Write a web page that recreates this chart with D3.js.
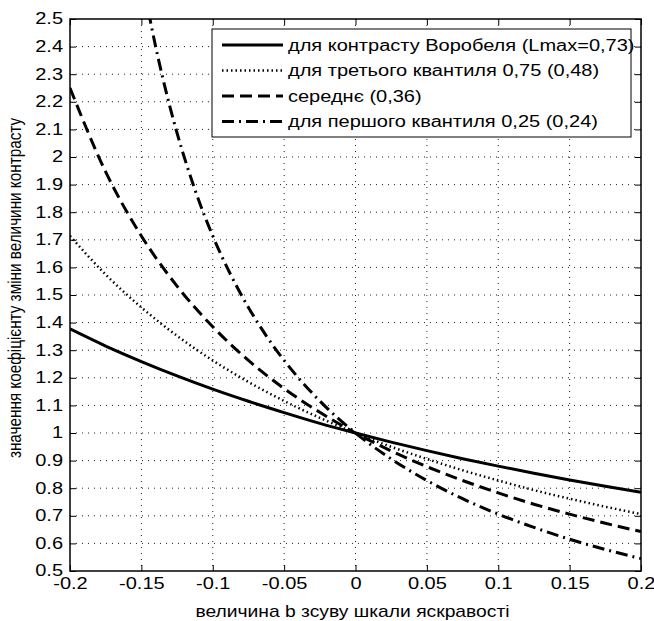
<!DOCTYPE html>
<html>
<head>
<meta charset="utf-8">
<script src="https://cdn.jsdelivr.net/npm/d3@7"></script>
<style>
  body { margin: 0; background: #fff; }
  text { font-family: "Liberation Sans", Arial, sans-serif; fill: #000; }
</style>
</head>
<body>
<div id="wrapper"></div>
<script>
// shift values b and contrast change coefficient
const bShift = [-0.2, -0.175, -0.15, -0.125, -0.1, -0.075, -0.05, -0.025, 0,
  0.025, 0.05, 0.075, 0.1, 0.125, 0.15, 0.175, 0.2];
const kVorobel = [1.377, 1.315, 1.259, 1.207, 1.159, 1.115, 1.074, 1.035, 1.0,
  0.967, 0.936, 0.907, 0.880, 0.854, 0.830, 0.807, 0.785];
const kQ75 = [1.714, 1.574, 1.455, 1.352, 1.263, 1.185, 1.116, 1.055, 1.0,
  0.950, 0.906, 0.865, 0.828, 0.793, 0.762, 0.733, 0.706];
const kMean = [2.25, 1.946, 1.714, 1.532, 1.385, 1.263, 1.161, 1.075, 1.0,
  0.935, 0.878, 0.828, 0.783, 0.742, 0.706, 0.673, 0.643];
const bShiftQ25 = [-0.145, -0.14, -0.135, -0.125, -0.1125, -0.1, -0.0875, -0.075, -0.0625,
  -0.05, -0.025, 0, 0.025, 0.05, 0.075, 0.1, 0.125, 0.15, 0.175, 0.2];
const kQ25 = [2.526, 2.40, 2.286, 2.087, 1.882, 1.714, 1.574, 1.455, 1.352,
  1.263, 1.116, 1.0, 0.906, 0.828, 0.762, 0.706, 0.658, 0.615, 0.578, 0.545];

const legendLabels = [
  "для контрасту Воробеля (Lmax=0,73)",
  "для третього квантиля 0,75 (0,48)",
  "середнє (0,36)",
  "для першого квантиля 0,25 (0,24)"
];
const xTicks = [-0.2, -0.15, -0.1, -0.05, 0, 0.05, 0.1, 0.15, 0.2];
const xTickLabels = ["-0.2", "-0.15", "-0.1", "-0.05", "0", "0.05", "0.1", "0.15", "0.2"];
const yTicks = [0.5, 0.6, 0.7, 0.8, 0.9, 1, 1.1, 1.2, 1.3, 1.4, 1.5, 1.6, 1.7, 1.8, 1.9, 2, 2.1, 2.2, 2.3, 2.4, 2.5];
const yTickLabels = ["0.5", "0.6", "0.7", "0.8", "0.9", "1", "1.1", "1.2", "1.3", "1.4", "1.5",
  "1.6", "1.7", "1.8", "1.9", "2", "2.1", "2.2", "2.3", "2.4", "2.5"];
const xTitle = "величина b зсуву шкали яскравості";
const yTitle = "значення коефіцієнту зміни величини контрасту";

const dims = {
  width: 654,
  height: 621,
  margin: { top: 19, left: 70, bottom: 50, right: 13 }
};
dims.boundedWidth = dims.width - dims.margin.left - dims.margin.right;
dims.boundedHeight = dims.height - dims.margin.top - dims.margin.bottom;

// the picture's text is a bit wider than it is tall
const sx = 1.25;

const styles = [
  { width: 3, dash: null },
  { width: 2.5, dash: "1.5,3" },
  { width: 3, dash: "12,6" },
  { width: 3, dash: "12,5,2,5" }
];

const svg = d3.select("#wrapper").append("svg")
  .attr("width", dims.width)
  .attr("height", dims.height);

const g = svg.append("g")
  .attr("transform", `translate(${dims.margin.left},${dims.margin.top})`);

const xScale = d3.scaleLinear().domain([-0.2, 0.2]).range([0, dims.boundedWidth]);
const yScale = d3.scaleLinear().domain([0.5, 2.5]).range([dims.boundedHeight, 0]);

// grid
g.append("g").selectAll("line").data(xTicks.slice(1, -1)).join("line")
  .attr("x1", d => xScale(d)).attr("x2", d => xScale(d))
  .attr("y1", 0).attr("y2", dims.boundedHeight)
  .attr("stroke", "#222").attr("stroke-width", 1).attr("stroke-dasharray", "1,5");
g.append("g").selectAll("line").data(yTicks.slice(1, -1)).join("line")
  .attr("y1", d => yScale(d)).attr("y2", d => yScale(d))
  .attr("x1", 0).attr("x2", dims.boundedWidth)
  .attr("stroke", "#222").attr("stroke-width", 1).attr("stroke-dasharray", "1,5");

// curves
svg.append("defs").append("clipPath").attr("id", "clip")
  .append("rect").attr("width", dims.boundedWidth).attr("height", dims.boundedHeight);

const series = [
  bShift.map((b, i) => [b, kVorobel[i]]),
  bShift.map((b, i) => [b, kQ75[i]]),
  bShift.map((b, i) => [b, kMean[i]]),
  bShiftQ25.map((b, i) => [b, kQ25[i]])
];
const line = d3.line()
  .x(d => xScale(d[0]))
  .y(d => yScale(d[1]))
  .curve(d3.curveMonotoneX);

g.append("g").attr("clip-path", "url(#clip)")
  .selectAll("path").data(series).join("path")
  .attr("d", line)
  .attr("fill", "none")
  .attr("stroke", "#000")
  .attr("stroke-width", (d, i) => styles[i].width)
  .attr("stroke-dasharray", (d, i) => styles[i].dash);

// axes with inward ticks on all sides
const fmtX = d => xTickLabels[xTicks.indexOf(d)];
const fmtY = d => yTickLabels[yTicks.indexOf(d)];
const axisB = g.append("g").attr("transform", `translate(0,${dims.boundedHeight})`)
  .call(d3.axisBottom(xScale).tickValues(xTicks).tickSize(-6).tickPadding(7).tickFormat(fmtX));
const axisT = g.append("g")
  .call(d3.axisTop(xScale).tickValues(xTicks).tickSize(-6).tickFormat(""));
const axisL = g.append("g")
  .call(d3.axisLeft(yScale).tickValues(yTicks).tickSize(-6).tickPadding(7).tickFormat(fmtY));
const axisR = g.append("g").attr("transform", `translate(${dims.boundedWidth},0)`)
  .call(d3.axisRight(yScale).tickValues(yTicks).tickSize(-6).tickFormat(""));

[axisB, axisT, axisL, axisR].forEach(a => {
  a.select(".domain").remove();
  a.selectAll("line").attr("stroke", "#000");
  a.selectAll("text")
    .style("font-size", "16px")
    .attr("fill", "#000")
    .attr("x", function() { return (+d3.select(this).attr("x") || 0) / sx; })
    .attr("transform", `scale(${sx},1)`);
});
axisL.selectAll("text").attr("dy", "0.3em");

g.append("rect")
  .attr("width", dims.boundedWidth).attr("height", dims.boundedHeight)
  .attr("fill", "none").attr("stroke", "#000").attr("stroke-width", 1.5);

// titles
svg.append("text")
  .attr("transform", `translate(${dims.margin.left + dims.boundedWidth / 2 - 3},617) scale(1.22,1)`)
  .attr("text-anchor", "middle")
  .style("font-size", "15.8px")
  .text(xTitle);

svg.append("text")
  .attr("transform", `translate(21,288) scale(${sx},1) rotate(-90)`)
  .attr("text-anchor", "middle")
  .style("font-size", "15.3px")
  .text(yTitle);

// legend
const legend = svg.append("g").attr("transform", "translate(212,29)");
legend.append("rect")
  .attr("width", 419).attr("height", 108)
  .attr("fill", "#fff").attr("stroke", "#000").attr("stroke-width", 1);

const rows = legend.selectAll("g").data(legendLabels).join("g")
  .attr("transform", (d, i) => `translate(0,${16 + i * 25.5})`);
rows.append("line")
  .attr("x1", 10).attr("x2", 71)
  .attr("stroke", "#000")
  .attr("stroke-width", (d, i) => styles[i].width)
  .attr("stroke-dasharray", (d, i) => styles[i].dash);
rows.append("text")
  .attr("transform", `translate(76,0) scale(${sx},1)`)
  .attr("dy", "0.35em")
  .style("font-size", "16px")
  .text(d => d);
</script>
</body>
</html>
